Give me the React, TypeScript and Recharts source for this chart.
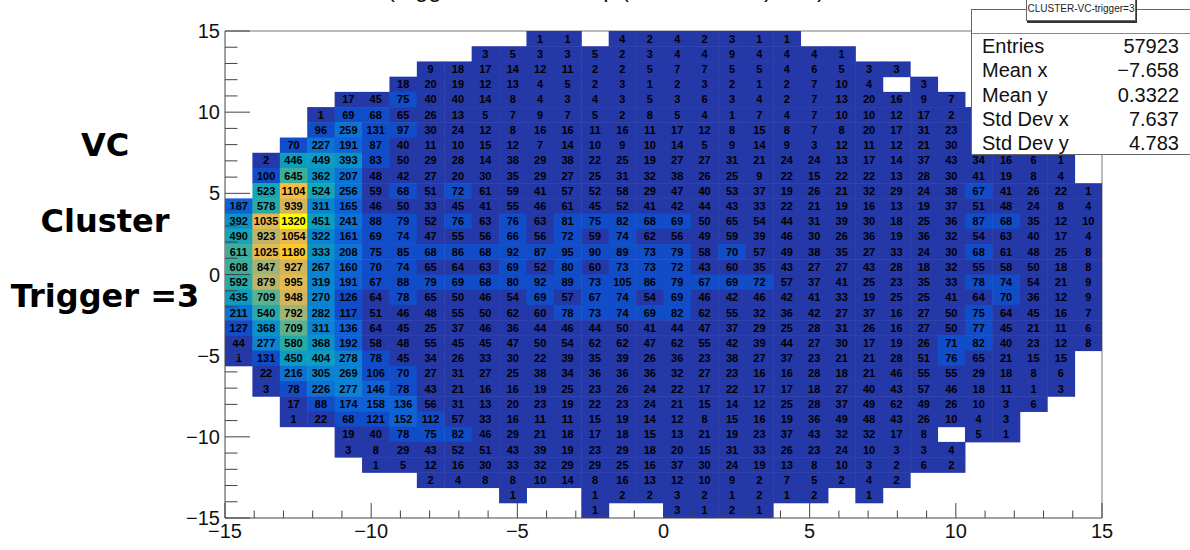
import { ScatterChart, Scatter, XAxis, YAxis, ReferenceLine } from 'recharts'

const xRange = [-15, 15]
const binCount = 32
const majorTicks = [-15, -10, -5, 0, 5, 10, 15]
const allTicks = [-15, -14, -13, -12, -11, -10, -9, -8, -7, -6, -5, -4, -3, -2, -1, 0, 1, 2, 3, 4, 5, 6, 7, 8, 9, 10, 11, 12, 13, 14, 15]

// rows of the histogram from y = +15 down to y = -15, 0 means empty bin
// the few bins behind the stats box are estimates
const row00 = [0, 0, 0, 0, 0, 0, 0, 0, 0, 0, 0, 1, 1, 0, 4, 2, 4, 2, 3, 1, 1, 0, 0, 0, 0, 0, 0, 0, 0, 0, 0, 0]
const row01 = [0, 0, 0, 0, 0, 0, 0, 0, 0, 3, 5, 3, 3, 5, 2, 3, 4, 4, 9, 4, 4, 4, 1, 0, 0, 0, 0, 0, 0, 0, 0, 0]
const row02 = [0, 0, 0, 0, 0, 0, 0, 9, 18, 17, 14, 12, 11, 2, 2, 5, 7, 7, 5, 5, 4, 6, 5, 3, 3, 0, 0, 0, 0, 0, 0, 0]
const row03 = [0, 0, 0, 0, 0, 0, 18, 20, 19, 12, 13, 4, 5, 2, 3, 1, 2, 3, 2, 1, 2, 7, 10, 4, 0, 3, 0, 0, 0, 0, 0, 0]
const row04 = [0, 0, 0, 0, 17, 45, 75, 40, 40, 14, 8, 4, 3, 4, 3, 5, 3, 6, 3, 4, 2, 7, 13, 20, 16, 9, 7, 0, 0, 0, 0, 0]
const row05 = [0, 0, 0, 1, 69, 68, 65, 26, 13, 5, 7, 9, 7, 5, 2, 8, 5, 4, 1, 7, 4, 7, 10, 10, 12, 17, 2, 4, 0, 0, 0, 0]
const row06 = [0, 0, 0, 96, 259, 131, 97, 30, 24, 12, 8, 16, 16, 11, 16, 11, 17, 12, 8, 15, 8, 7, 8, 20, 17, 31, 23, 12, 5, 0, 0, 0]
const row07 = [0, 0, 70, 227, 191, 87, 40, 11, 10, 15, 12, 7, 14, 10, 9, 10, 14, 5, 9, 14, 9, 3, 12, 11, 12, 21, 30, 24, 15, 3, 0, 0]
const row08 = [0, 2, 446, 449, 393, 83, 50, 29, 28, 14, 38, 29, 38, 22, 25, 19, 27, 27, 31, 21, 24, 24, 13, 17, 14, 37, 43, 34, 16, 6, 1, 0]
const row09 = [0, 100, 645, 362, 207, 48, 42, 27, 20, 30, 35, 29, 27, 25, 31, 32, 38, 26, 25, 9, 22, 15, 22, 22, 13, 28, 30, 41, 19, 8, 4, 0]
const row10 = [0, 523, 1104, 524, 256, 59, 68, 51, 72, 61, 59, 41, 57, 52, 58, 29, 47, 40, 53, 37, 19, 26, 21, 32, 29, 24, 38, 67, 41, 26, 22, 1]
const row11 = [187, 578, 939, 311, 165, 46, 50, 33, 45, 41, 55, 46, 61, 45, 52, 41, 42, 44, 43, 33, 22, 21, 19, 16, 13, 19, 37, 51, 48, 24, 8, 4]
const row12 = [392, 1035, 1320, 451, 241, 88, 79, 52, 76, 63, 76, 63, 81, 75, 82, 68, 69, 50, 65, 54, 44, 31, 39, 30, 18, 25, 36, 87, 68, 35, 12, 10]
const row13 = [490, 923, 1054, 322, 161, 69, 74, 47, 55, 56, 66, 56, 72, 59, 74, 62, 56, 49, 59, 39, 46, 30, 26, 36, 19, 36, 32, 54, 63, 40, 17, 4]
const row14 = [611, 1025, 1180, 333, 208, 75, 85, 68, 86, 68, 92, 87, 95, 90, 89, 73, 79, 58, 70, 57, 49, 38, 35, 27, 33, 24, 30, 68, 61, 48, 25, 8]
const row15 = [608, 847, 927, 267, 160, 70, 74, 65, 64, 63, 69, 52, 80, 60, 73, 73, 72, 43, 60, 35, 43, 27, 27, 43, 28, 18, 32, 55, 58, 50, 18, 8]
const row16 = [592, 879, 995, 319, 191, 67, 88, 79, 69, 68, 80, 92, 89, 73, 105, 86, 79, 67, 69, 72, 57, 37, 41, 25, 23, 35, 33, 78, 74, 54, 21, 9]
const row17 = [435, 709, 948, 270, 126, 64, 78, 65, 50, 46, 54, 69, 57, 67, 74, 54, 69, 46, 42, 46, 42, 41, 33, 19, 25, 25, 41, 64, 70, 36, 12, 9]
const row18 = [211, 540, 792, 282, 117, 51, 46, 48, 55, 50, 62, 60, 78, 73, 74, 69, 82, 62, 55, 32, 36, 42, 27, 37, 16, 27, 50, 75, 64, 45, 16, 7]
const row19 = [127, 368, 709, 311, 136, 64, 45, 25, 37, 46, 36, 44, 46, 44, 50, 41, 44, 47, 37, 29, 25, 28, 31, 26, 16, 27, 50, 77, 45, 21, 11, 6]
const row20 = [44, 277, 580, 368, 192, 58, 48, 55, 45, 45, 47, 50, 54, 62, 62, 47, 62, 55, 42, 39, 44, 27, 30, 17, 19, 26, 71, 82, 40, 23, 12, 8]
const row21 = [1, 131, 450, 404, 278, 78, 45, 34, 26, 33, 30, 22, 39, 35, 39, 26, 36, 23, 38, 27, 37, 23, 21, 21, 28, 51, 76, 65, 21, 15, 15, 0]
const row22 = [0, 22, 216, 305, 269, 106, 70, 27, 31, 27, 25, 38, 34, 36, 36, 36, 32, 27, 23, 16, 16, 28, 18, 21, 46, 55, 55, 29, 18, 8, 6, 0]
const row23 = [0, 3, 78, 226, 277, 146, 78, 43, 21, 16, 16, 19, 25, 23, 26, 24, 22, 17, 22, 17, 17, 18, 27, 40, 43, 57, 46, 18, 11, 1, 3, 0]
const row24 = [0, 0, 17, 88, 174, 158, 136, 56, 31, 13, 20, 23, 19, 22, 23, 24, 21, 15, 14, 12, 25, 28, 37, 49, 62, 49, 26, 10, 3, 6, 0, 0]
const row25 = [0, 0, 1, 22, 68, 121, 152, 112, 57, 33, 16, 11, 11, 15, 19, 14, 12, 8, 15, 16, 19, 36, 49, 48, 43, 26, 10, 4, 3, 0, 0, 0]
const row26 = [0, 0, 0, 0, 19, 40, 78, 75, 82, 46, 29, 21, 18, 17, 18, 15, 13, 21, 19, 23, 37, 43, 32, 32, 17, 8, 0, 5, 1, 0, 0, 0]
const row27 = [0, 0, 0, 0, 3, 8, 29, 43, 52, 51, 43, 39, 19, 23, 29, 18, 20, 15, 31, 33, 26, 23, 24, 10, 3, 3, 4, 0, 0, 0, 0, 0]
const row28 = [0, 0, 0, 0, 0, 1, 5, 12, 16, 30, 33, 32, 29, 29, 25, 16, 37, 30, 24, 19, 13, 8, 10, 3, 2, 6, 2, 0, 0, 0, 0, 0]
const row29 = [0, 0, 0, 0, 0, 0, 0, 2, 4, 8, 8, 10, 14, 8, 16, 13, 12, 10, 9, 2, 7, 5, 2, 4, 2, 0, 0, 0, 0, 0, 0, 0]
const row30 = [0, 0, 0, 0, 0, 0, 0, 0, 0, 0, 1, 0, 0, 1, 2, 2, 3, 2, 1, 2, 1, 2, 0, 1, 0, 0, 0, 0, 0, 0, 0, 0]
const row31 = [0, 0, 0, 0, 0, 0, 0, 0, 0, 0, 0, 0, 0, 1, 0, 0, 3, 1, 2, 1, 0, 0, 0, 0, 0, 0, 0, 0, 0, 0, 0, 0]

const rows = [
  row00, row01, row02, row03, row04, row05, row06, row07, row08, row09, row10,
  row11, row12, row13, row14, row15, row16, row17, row18, row19, row20, row21,
  row22, row23, row24, row25, row26, row27, row28, row29, row30, row31,
]

const statNames = ['Entries', 'Mean x', 'Mean y', 'Std Dev x', 'Std Dev y']
const statValues = ['57923', '\u22127.658', '0.3322', '7.637', '4.783']
const sideLabels = ['VC', 'Cluster', 'Trigger =3']

// the reference title is cut off by the page top, only descenders show there.
// the words are a guess that puts the same descenders in the same places
const titleParts = ['(trigger cluster', 'map', '(cluster XY', ')', ')']
const titleLefts = [387, 570, 621, 764, 817]

// 20 contour bands, low to high
const palette = [
  '#2538a8', '#114dc9', '#0f62d6', '#0c72d6', '#0a84d2', '#0a92c8', '#0c9dc0', '#14a6b4', '#28aba8', '#3eae9c',
  '#5eb190', '#80b380', '#a0b574', '#bcb568', '#d4b55c', '#e4b950', '#f6be3c', '#fdc92c', '#ffdc18', '#ffff00',
]
const bandSize = 66

const FONT = '"Liberation Sans", Arial, sans-serif'
const WIDTH = 1190
const HEIGHT = 550
const LEFT = 225
const RIGHT = 88
const TOP = 31
const BOTTOM = 32
const cellW = (WIDTH - LEFT - RIGHT) / binCount
const cellH = (HEIGHT - TOP - BOTTOM) / binCount
const binSize = (xRange[1] - xRange[0]) / binCount

const cells = rows.flatMap((row, r) =>
  row.map((count, c) => ({
    x: xRange[0] + (c + 0.5) * binSize,
    y: xRange[1] - (r + 0.5) * binSize,
    count,
  })).filter((d) => d.count > 0)
)

const HistCell = (props: any) => {
  const { cx, cy, payload } = props
  const band = Math.min(palette.length - 1, Math.floor(payload.count / bandSize))
  return (
    <g>
      <rect x={cx - cellW / 2} y={cy - cellH / 2} width={cellW + 0.5} height={cellH + 0.5} fill={palette[band]} />
      <text x={cx} y={cy + 4} textAnchor="middle" fontSize={11} fontWeight="bold" fontFamily={FONT} fill="#000">
        {payload.count}
      </text>
    </g>
  )
}

const XTick = ({ x, y, payload }: any) => {
  const major = majorTicks.includes(payload.value)
  return (
    <g>
      <line x1={x} x2={x} y1={y} y2={y - (major ? 15 : 7.5)} stroke="#444" />
      {major && (
        <text x={x} y={y + 20} textAnchor="middle" fontSize={20} fontFamily={FONT} fill="#111">
          {String(payload.value).replace('-', '\u2212')}
        </text>
      )}
    </g>
  )
}

const YTick = ({ x, y, payload }: any) => {
  const major = majorTicks.includes(payload.value)
  return (
    <g>
      <line x1={x} x2={x + (major ? 25 : 12.5)} y1={y} y2={y} stroke="#444" />
      {major && (
        <text x={x - 5} y={y + 7} textAnchor="end" fontSize={20} fontFamily={FONT} fill="#111">
          {String(payload.value).replace('-', '\u2212')}
        </text>
      )}
    </g>
  )
}

const App = () => {
  return (
    <div style={{ position: 'absolute', left: 0, top: 0, width: WIDTH, height: HEIGHT, overflow: 'hidden', background: '#fff' }}>
      {titleParts.map((part, i) => (
        <div
          key={i}
          style={{ position: 'absolute', left: titleLefts[i], top: -23, fontFamily: FONT, fontSize: 24, lineHeight: '24px', color: '#111', whiteSpace: 'nowrap', zIndex: 1 }}
        >
          {part}
        </div>
      ))}

      <ScatterChart width={WIDTH} height={HEIGHT} margin={{ left: 0, right: RIGHT, top: TOP, bottom: 0 }}>
        <Scatter data={cells} shape={<HistCell />} isAnimationActive={false} />
        <XAxis
          type="number"
          dataKey="x"
          domain={xRange}
          ticks={allTicks}
          interval={0}
          height={BOTTOM}
          tick={<XTick />}
          tickLine={false}
          tickSize={0}
          tickMargin={0}
          axisLine={{ stroke: '#444' }}
          allowDataOverflow
        />
        <YAxis
          type="number"
          dataKey="y"
          domain={xRange}
          ticks={allTicks}
          interval={0}
          width={LEFT}
          tick={<YTick />}
          tickLine={false}
          tickSize={0}
          tickMargin={0}
          axisLine={{ stroke: '#444' }}
          allowDataOverflow
        />
        <ReferenceLine x={xRange[1]} stroke="#777" />
        <ReferenceLine y={xRange[1]} stroke="#777" />
      </ScatterChart>

      {sideLabels.map((label, i) => (
        <div
          key={label}
          style={{
            position: 'absolute', left: 0, width: 210, top: 126 + i * 75.5, textAlign: 'center',
            fontFamily: '"DejaVu Sans"', fontWeight: 'bold', fontSize: 32, lineHeight: '38px', color: '#000',
          }}
        >
          {label}
        </div>
      ))}

      <div style={{ position: 'absolute', left: 971, top: 9, width: 230, height: 146, background: '#fff', border: '1px solid #666', boxSizing: 'border-box', zIndex: 2 }}>
        <div style={{ position: 'absolute', left: 0, right: 0, top: 23, borderTop: '1px solid #888' }} />
        {statNames.map((name, i) => (
          <div key={name} style={{ position: 'absolute', left: 10, top: 24 + i * 24.3, fontFamily: FONT, fontSize: 20, lineHeight: '24px', color: '#111' }}>
            {name}
          </div>
        ))}
        {statValues.map((value, i) => (
          <div key={value} style={{ position: 'absolute', left: 107, width: 100, textAlign: 'right', top: 24 + i * 24.3, fontFamily: FONT, fontSize: 20, lineHeight: '24px', color: '#111' }}>
            {value}
          </div>
        ))}
      </div>
      <div
        style={{
          position: 'absolute', left: 1026, top: -4, width: 110, height: 25, background: '#fff', border: '1px solid #666',
          boxShadow: '1px 2px 0 #333', boxSizing: 'border-box', fontFamily: FONT, fontSize: 10, lineHeight: '23px', textAlign: 'center', color: '#222', zIndex: 3,
        }}
      >
        CLUSTER-VC-trigger=3
      </div>
    </div>
  )
}

export default App
